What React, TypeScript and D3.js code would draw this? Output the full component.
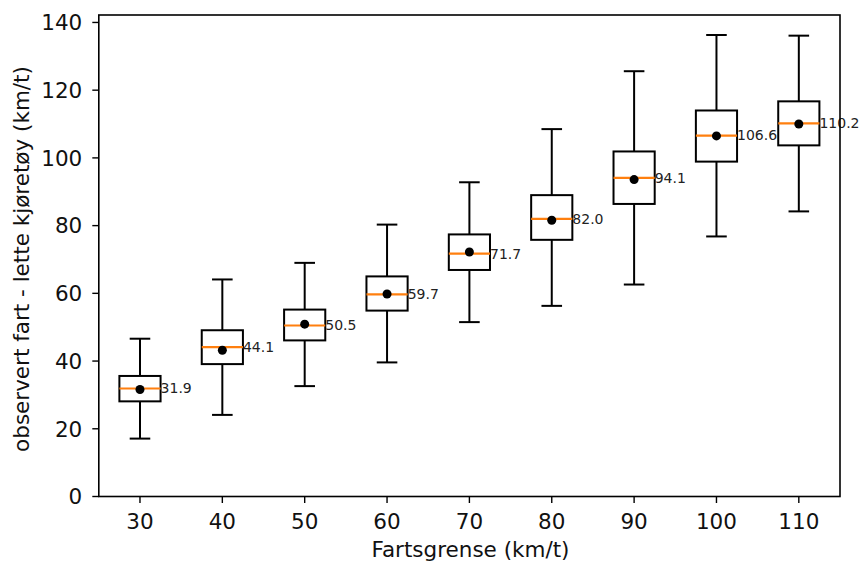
import * as d3 from "d3";

const limits = [30, 40, 50, 60, 70, 80, 90, 100, 110];
const whiskerHigh = [46.6, 64.1, 69.0, 80.3, 92.8, 108.5, 125.6, 136.3, 136.1];
const q3 = [35.6, 49.1, 55.2, 65.0, 77.4, 89.0, 101.9, 114.0, 116.7];
const median = [31.9, 44.1, 50.5, 59.7, 71.7, 82.0, 94.1, 106.6, 110.2];
const mean = [31.6, 43.2, 50.9, 59.8, 72.2, 81.6, 93.6, 106.5, 110.0];
const q1 = [28.1, 39.1, 46.1, 54.9, 66.9, 75.8, 86.4, 98.9, 103.7];
const whiskerLow = [17.1, 24.1, 32.6, 39.6, 51.5, 56.3, 62.6, 76.8, 84.2];
const yTicks = [0, 20, 40, 60, 80, 100, 120, 140];

const width = 859;
const height = 563;
const left = 98.8;
const right = 840;
const top = 15;
const bottom = 496.5;
const font = "DejaVu Sans, sans-serif";
const fs = 21.5;

export default function App() {
  const x = d3.scaleLinear().domain([0.5, limits.length + 0.5]).range([left, right]);
  const y = d3.scaleLinear().domain([0, 142.2]).range([bottom, top]);
  const boxW = x(1.25) - x(1);
  const capW = x(1.125) - x(1);

  return (
    <svg width={width} height={height} style={{ position: "absolute", left: 0, top: 0, background: "#fff" }}>
      {/* boxes */}
      {limits.map((lim, i) => {
        const cx = x(i + 1);
        return (
          <g key={lim} stroke="#000" strokeWidth={2} fill="none">
            <line x1={cx} x2={cx} y1={y(q3[i])} y2={y(whiskerHigh[i])} />
            <line x1={cx} x2={cx} y1={y(q1[i])} y2={y(whiskerLow[i])} />
            <line x1={cx - capW} x2={cx + capW} y1={y(whiskerHigh[i])} y2={y(whiskerHigh[i])} />
            <line x1={cx - capW} x2={cx + capW} y1={y(whiskerLow[i])} y2={y(whiskerLow[i])} />
            <rect x={cx - boxW} y={y(q3[i])} width={boxW * 2} height={y(q1[i]) - y(q3[i])} />
            <line x1={cx - boxW} x2={cx + boxW} y1={y(median[i])} y2={y(median[i])} stroke="#ff7f0e" strokeWidth={2.2} />
            <circle cx={cx} cy={y(mean[i])} r={4.5} fill="#000" stroke="none" />
            <text x={cx + boxW} y={y(median[i])} dy="0.35em" fill="#222" stroke="none" fontSize={14} fontFamily={font}>
              {median[i].toFixed(1)}
            </text>
          </g>
        );
      })}

      {/* frame */}
      <rect x={left} y={top} width={right - left} height={bottom - top} fill="none" stroke="#000" strokeWidth={1.6} />

      {/* y axis */}
      {yTicks.map((t) => (
        <g key={t}>
          <line x1={left - 6.5} x2={left} y1={y(t)} y2={y(t)} stroke="#000" strokeWidth={1.4} />
          <text x={left - 16.5} y={y(t)} dy="0.36em" textAnchor="end" fontSize={fs} fontFamily={font} fill="#111">
            {t}
          </text>
        </g>
      ))}

      {/* x axis */}
      {limits.map((lim, i) => (
        <g key={lim}>
          <line x1={x(i + 1)} x2={x(i + 1)} y1={bottom} y2={bottom + 6.5} stroke="#000" strokeWidth={1.4} />
          <text x={x(i + 1)} y={528.5} textAnchor="middle" fontSize={fs} fontFamily={font} fill="#111">
            {lim}
          </text>
        </g>
      ))}

      <text x={470.5} y={556.5} textAnchor="middle" fontSize={fs} fontFamily={font} fill="#111">
        Fartsgrense (km/t)
      </text>
      <text
        transform={`translate(28.5,259) rotate(-90)`}
        textAnchor="middle"
        fontSize={fs}
        fontFamily={font}
        fill="#111"
      >
        observert fart - lette kjøretøy (km/t)
      </text>
    </svg>
  );
}
